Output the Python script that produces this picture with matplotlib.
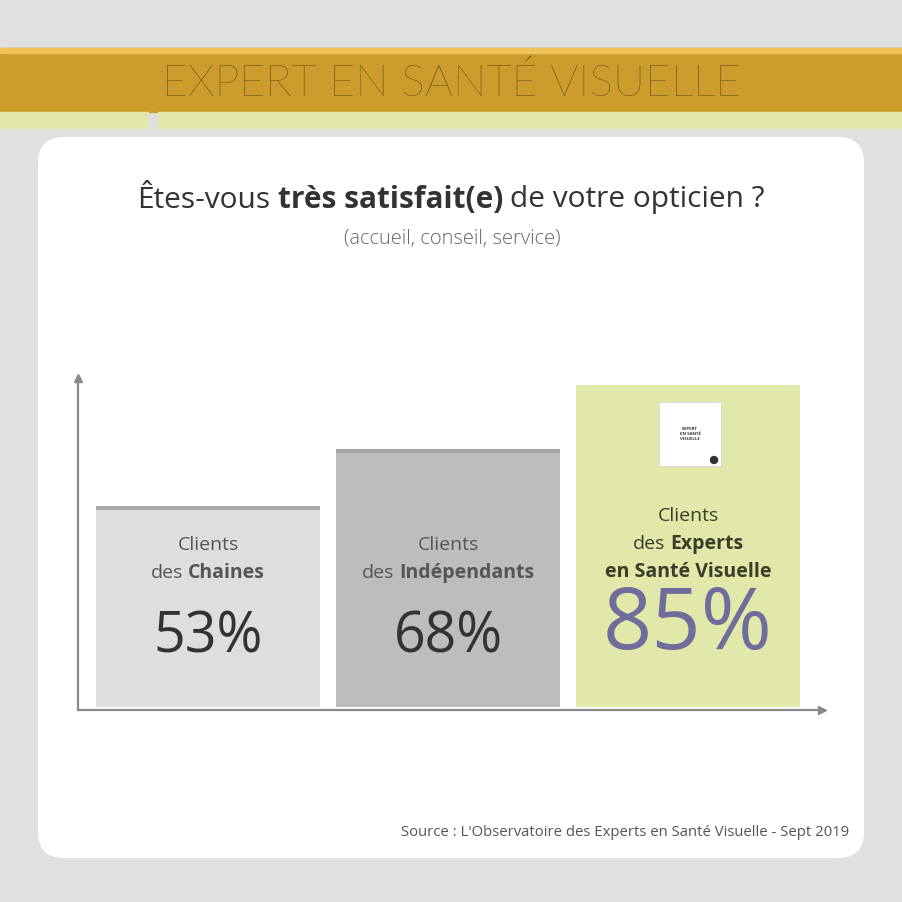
import matplotlib
matplotlib.use('Agg')
import matplotlib.pyplot as plt
from matplotlib.patches import FancyBboxPatch, Rectangle, Circle

# Data
categories = ['Chaines', 'Indépendants', 'Experts en Santé Visuelle']
values = [53, 68, 85]
value_labels = ['53%', '68%', '85%']
bar_colors = ['#dedede', '#bdbdbd', '#e1e8aa']
# label lines, each line is a list of (text, bold)
label_lines = [
    [[('Clients', False)], [('des', False), ('Chaines', True)]],
    [[('Clients', False)], [('des', False), ('Indépendants', True)]],
    [[('Clients', False)], [('des', False), ('Experts', True)], [('en Santé Visuelle', True)]],
]
title_parts = [('Êtes-vous', False), ('très satisfait(e)', True), ('de votre opticien ?', False)]
subtitle = '(accueil, conseil, service)'
header = 'EXPERT EN SANTÉ VISUELLE'
source = "Source : L'Observatoire des Experts en Santé Visuelle - Sept 2019"

FONT = 'Open Sans'
DPI = 100
W = 902
PX_PER_PCT = 3.79

fig = plt.figure(figsize=(W / DPI, W / DPI), dpi=DPI)
fig.patch.set_facecolor('#e0e0e0')

# background axes in pixel coords (y down)
bg = fig.add_axes([0, 0, 1, 1])
bg.set_xlim(0, W)
bg.set_ylim(W, 0)
bg.axis('off')

# header band
bg.add_patch(Rectangle((0, 48), W, 64, color='#cc9d2d', zorder=1))
bg.add_patch(Rectangle((0, 48), W, 5, color='#eec459', zorder=1))
bg.add_patch(Rectangle((0, 112), 148, 16, color='#e1e8aa', zorder=1))
bg.add_patch(Rectangle((158, 112), W - 158, 16, color='#e1e8aa', zorder=1))
bg.text(W / 2 + 1, 84, header, ha='center', va='center', fontsize=32,
        family='Lato', fontweight='light', color='#4e4510', zorder=3)

# white panel
bg.add_patch(FancyBboxPatch((38, 137), 826, 721, boxstyle='round,pad=0,rounding_size=26',
                            facecolor='white', edgecolor='none', zorder=1))

fig.canvas.draw()
renderer = fig.canvas.get_renderer()


def mixed_text(ax, xc, y, parts, size, color, gap, weight='normal'):
    objs = []
    widths = []
    for txt, bold in parts:
        t = ax.text(0, y, txt, fontsize=size, family=FONT, color=color,
                    fontweight='bold' if bold else weight, va='center', ha='left', zorder=6)
        objs.append(t)
        widths.append(t.get_window_extent(renderer).width)
    total = sum(widths) + gap * (len(parts) - 1)
    x = xc - total / 2
    for t, w in zip(objs, widths):
        t.set_x(x)
        x += w + gap


mixed_text(bg, W / 2, 200, title_parts, 21.5, '#333333', 7)
bg.text(W / 2 + 1, 239, subtitle, ha='center', va='center', fontsize=14.5,
        family=FONT, fontweight='light', color='#666666')
bg.text(849, 832, source, ha='right', va='center', fontsize=10.7,
        family=FONT, color='#555555')

# bar chart axes
x0, x1, yb, yt = 78, 822, 710, 378
ax = fig.add_axes([x0 / W, (W - yb) / W, (x1 - x0) / W, (yb - yt) / W])
ax.patch.set_alpha(0)
ax.set_xlim(-0.542, 2.558)
ax.set_ylim(-3 / PX_PER_PCT, (yb - yt - 3) / PX_PER_PCT)
pos = list(range(len(values)))
ax.bar(pos, values, width=0.933, color=bar_colors, zorder=2)
ax.bar(pos[:2], [0.9, 0.9], bottom=[v - 0.9 for v in values[:2]], width=0.933,
       color=['#a8a8a8', '#a5a5a5'], zorder=3)
for s in ['top', 'right']:
    ax.spines[s].set_visible(False)
for s in ['left', 'bottom']:
    ax.spines[s].set_color('#8a8a8a')
    ax.spines[s].set_linewidth(1.6)
ax.set_xticks([])
ax.set_yticks([])
ax.plot(0, 1, '^', color='#8a8a8a', ms=6, transform=ax.transAxes, clip_on=False)
ax.plot(1, 0, '>', color='#8a8a8a', ms=6, transform=ax.transAxes, clip_on=False)

# bar labels (in pixel coords on an overlay axes)
centers = [208, 448, 688]
label_tops = [545, 545, 516]
label_colors = ['#555555', '#555555', '#3c3c28']
val_y = [638, 638, 627]
val_sizes = [40, 40, 62]
val_colors = ['#333333', '#333333', '#6f6d9c']
bg2 = fig.add_axes([0, 0, 1, 1])
bg2.set_xlim(0, W)
bg2.set_ylim(W, 0)
bg2.axis('off')
bg2.patch.set_alpha(0)
for i, lines in enumerate(label_lines):
    for j, line in enumerate(lines):
        mixed_text(bg2, centers[i], label_tops[i] + j * 28, line, 14, label_colors[i], 5)
    bg2.text(centers[i], val_y[i], value_labels[i], ha='center', va='center',
             fontsize=val_sizes[i], family=FONT, fontweight='medium',
             color=val_colors[i], zorder=6)

# small logo in the third bar
bg2.add_patch(Rectangle((659, 402), 62, 64, facecolor='white', edgecolor='#dddddd', lw=0.8, zorder=5))
bg2.text(690, 434, 'EXPERT\nEN SANTÉ\nVISUELLE', ha='center', va='center', fontsize=3.2,
         family=FONT, fontweight='bold', color='#333333', linespacing=1.2, zorder=6)
bg2.add_patch(Circle((714, 460), 3.5, color='#333333', zorder=6))

fig.savefig('out.png', dpi=DPI, facecolor=fig.get_facecolor())
